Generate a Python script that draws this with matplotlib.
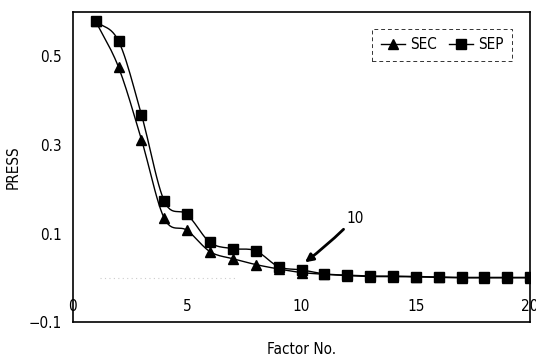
import matplotlib
matplotlib.use("Agg")
import matplotlib.pyplot as plt
import numpy as np

plt.rcParams["font.family"] = ["DejaVu Sans", "Liberation Sans"]
plt.rcParams["font.stretch"] = "condensed"

factors = np.arange(1, 21)
sec = [0.579, 0.475, 0.312, 0.134, 0.107, 0.059, 0.043, 0.030, 0.020, 0.012,
       0.008, 0.005, 0.003, 0.003, 0.002, 0.001, 0.000, 0.000, 0.000, 0.000]
sep = [0.579, 0.534, 0.368, 0.173, 0.143, 0.080, 0.066, 0.061, 0.025, 0.018,
       0.009, 0.006, 0.004, 0.004, 0.003, 0.002, 0.001, 0.001, 0.001, 0.001]
x_ticks = [0, 5, 10, 15, 20]
y_ticks = [0.5, 0.3, 0.1, -0.1]


def smooth(x, y, n=12):
    # Catmull-Rom curve through the points, like a spreadsheet "smoothed line"
    x = np.asarray(x, float)
    y = np.asarray(y, float)
    px = np.concatenate([[2 * x[0] - x[1]], x, [2 * x[-1] - x[-2]]])
    py = np.concatenate([[2 * y[0] - y[1]], y, [2 * y[-1] - y[-2]]])
    t = np.linspace(0, 1, n, endpoint=False)
    xs, ys = [], []
    for i in range(1, len(px) - 2):
        for arr, out in ((px, xs), (py, ys)):
            p0, p1, p2, p3 = arr[i - 1:i + 3]
            out.extend(0.5 * (2 * p1 + (-p0 + p2) * t
                              + (2 * p0 - 5 * p1 + 4 * p2 - p3) * t ** 2
                              + (-p0 + 3 * p1 - 3 * p2 + p3) * t ** 3))
    xs.append(x[-1])
    ys.append(y[-1])
    return np.array(xs), np.array(ys)


fig = plt.figure(figsize=(5.36, 3.64), dpi=100)
ax = fig.add_axes([0.136, 0.115, 0.853, 0.852])

ax.plot(*smooth(factors, sec), color="black", lw=1.0)
ax.plot(*smooth(factors, sep), color="black", lw=1.0)
ax.plot(factors, sec, ls="none", marker="^", ms=7.5, color="black")
ax.plot(factors, sep, ls="none", marker="s", ms=7.5, color="black")

# legend proxies
ax.plot([], [], color="black", lw=1.0, marker="^", ms=7, label="SEC")
ax.plot([], [], color="black", lw=1.0, marker="s", ms=7, label="SEP")

ax.plot([1.2, 7.2], [0, 0], color="#cccccc", lw=0.8, ls=(0, (1, 3)))

ax.annotate("10", xy=(10.15, 0.035), xytext=(11.95, 0.135),
            fontsize=11, va="center",
            arrowprops=dict(arrowstyle="-|>", color="black", lw=2.0,
                            shrinkA=1, shrinkB=0, mutation_scale=12,
                            connectionstyle="arc3,rad=-0.04"))

ax.set_xlim(0, 20)
ax.set_ylim(-0.1, 0.6)
ax.set_xticks(x_ticks)
ax.set_yticks(y_ticks)
ax.set_yticklabels([f"{v:.1f}".replace("-", "\u2212") for v in y_ticks])
ax.tick_params(axis="x", length=0, pad=-17, labelsize=11)
ax.tick_params(axis="y", length=0, pad=8, labelsize=11)
for s in ax.spines.values():
    s.set_linewidth(1.2)

ax.set_xlabel("Factor No.", fontsize=11, labelpad=14)
ax.set_ylabel("PRESS", fontsize=11, labelpad=6)

leg = ax.legend(loc="upper right", ncol=2, frameon=True, fontsize=11,
                handlelength=1.6, handletextpad=0.3, columnspacing=0.8,
                borderpad=0.55, borderaxespad=0, fancybox=False,
                bbox_to_anchor=(0.96, 0.945))
leg.get_frame().set_edgecolor("black")
leg.get_frame().set_linestyle((0, (4, 3)))
leg.get_frame().set_linewidth(0.7)

fig.savefig("out.png", dpi=100)
